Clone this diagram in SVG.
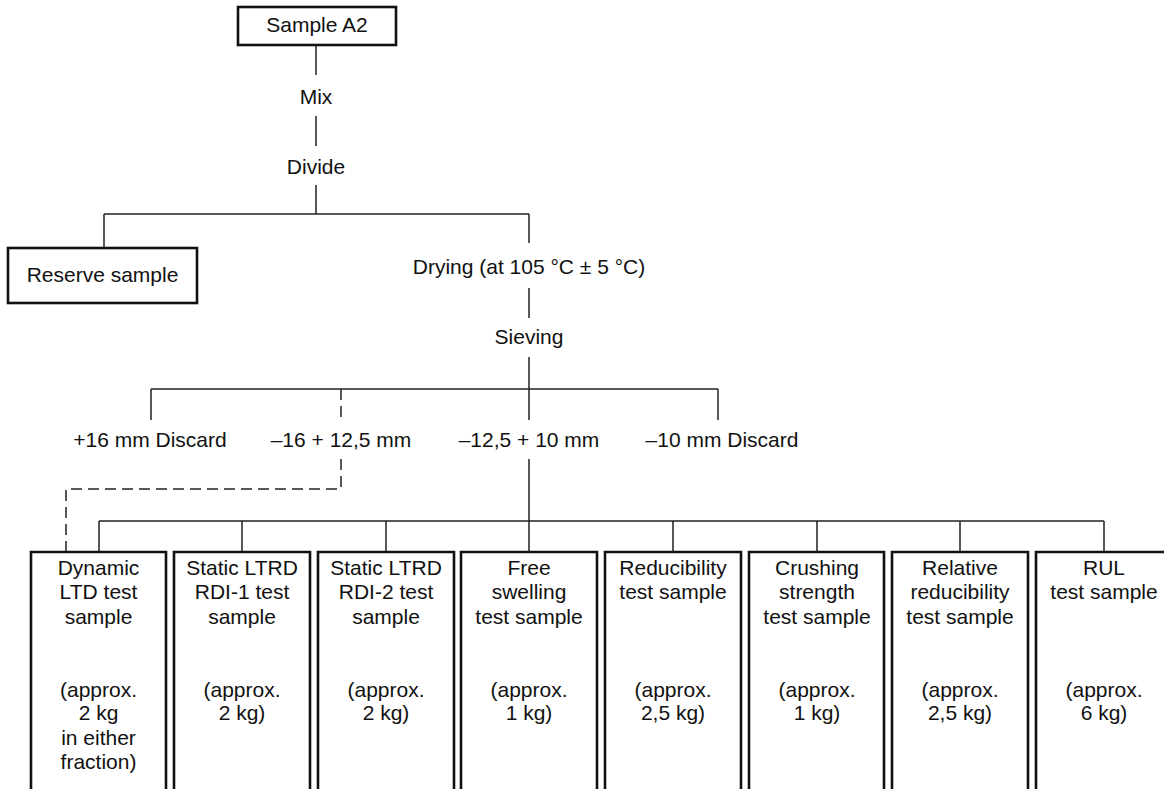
<svg xmlns="http://www.w3.org/2000/svg" width="1164" height="789" viewBox="0 0 1164 789">
<style>
text{font-family:"Liberation Sans",Arial,sans-serif;font-size:21px;fill:#111;text-anchor:middle}
.box{fill:#fff;stroke:#111;stroke-width:2.6}
.ln{fill:none;stroke:#222;stroke-width:1.5}
.dash{fill:none;stroke:#222;stroke-width:1.5;stroke-dasharray:11 6}
</style>
<rect width="1164" height="789" fill="#fff"/>
<g id="connectors">
<path class="ln" d="M316 45V75M316 116V146M316 185V214M104 214H529M104 214V248M529 214V243M529 288V318M529 357V389M151 389H718M151 389V420M718 389V420M529 389V420M529 459V521M99 521H1104"/>
<path class="ln" d="M99 521V552M242 521V552M386 521V552M673 521V552M817 521V552M960 521V552M1104 521V552M529 521V552"/>
<path class="dash" d="M341 389V420M341 459V489H66V552"/>
</g>
<g id="sampleA2"><rect class="box" x="238" y="7" width="158" height="38"/><text x="317" y="32">Sample A2</text></g>
<g id="mix"><text x="316" y="104">Mix</text></g>
<g id="divide"><text x="316" y="174">Divide</text></g>
<g id="reserve"><rect class="box" x="8" y="248" width="189" height="55"/><text x="102.5" y="282">Reserve sample</text></g>
<g id="drying"><text x="529" y="274">Drying (at 105 °C ± 5 °C)</text></g>
<g id="sieving"><text x="529" y="344">Sieving</text></g>
<g id="f16"><text x="150" y="447">+16 mm Discard</text></g>
<g id="f16125"><text x="341" y="447">–16 + 12,5 mm</text></g>
<g id="f12510"><text x="529" y="447">–12,5 + 10 mm</text></g>
<g id="f10"><text x="722" y="447">–10 mm Discard</text></g>
<g id="b1"><path class="box" d="M31 790V552H166V790"/><text x="98.5" y="575">Dynamic</text><text x="98.5" y="599">LTD test</text><text x="98.5" y="624">sample</text><text x="98.5" y="697">(approx.</text><text x="98.5" y="720">2 kg</text><text x="98.5" y="745">in either</text><text x="98.5" y="769">fraction)</text></g>
<g id="b2"><path class="box" d="M174 790V552H310V790"/><text x="242" y="575">Static LTRD</text><text x="242" y="599">RDI-1 test</text><text x="242" y="624">sample</text><text x="242" y="697">(approx.</text><text x="242" y="720">2 kg)</text></g>
<g id="b3"><path class="box" d="M318 790V552H454V790"/><text x="386" y="575">Static LTRD</text><text x="386" y="599">RDI-2 test</text><text x="386" y="624">sample</text><text x="386" y="697">(approx.</text><text x="386" y="720">2 kg)</text></g>
<g id="b4"><path class="box" d="M461 790V552H597V790"/><text x="529" y="575">Free</text><text x="529" y="599">swelling</text><text x="529" y="624">test sample</text><text x="529" y="697">(approx.</text><text x="529" y="720">1 kg)</text></g>
<g id="b5"><path class="box" d="M605 790V552H741V790"/><text x="673" y="575">Reducibility</text><text x="673" y="599">test sample</text><text x="673" y="697">(approx.</text><text x="673" y="720">2,5 kg)</text></g>
<g id="b6"><path class="box" d="M749 790V552H884V790"/><text x="817" y="575">Crushing</text><text x="817" y="599">strength</text><text x="817" y="624">test sample</text><text x="817" y="697">(approx.</text><text x="817" y="720">1 kg)</text></g>
<g id="b7"><path class="box" d="M892 790V552H1028V790"/><text x="960" y="575">Relative</text><text x="960" y="599">reducibility</text><text x="960" y="624">test sample</text><text x="960" y="697">(approx.</text><text x="960" y="720">2,5 kg)</text></g>
<g id="b8"><path class="box" d="M1036 790V552H1172"/><text x="1104" y="575">RUL</text><text x="1104" y="599">test sample</text><text x="1104" y="697">(approx.</text><text x="1104" y="720">6 kg)</text></g>
</svg>
